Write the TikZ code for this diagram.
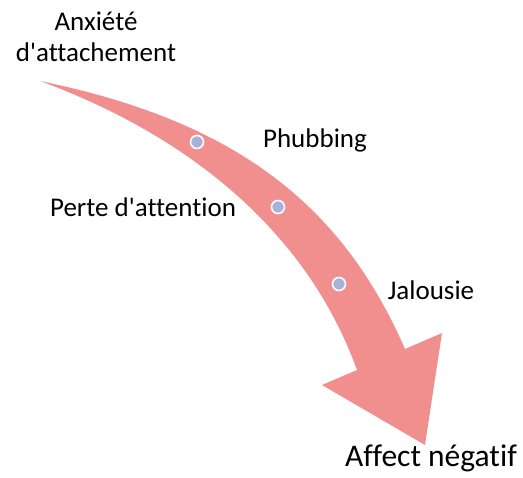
\documentclass[tikz,border=0pt]{standalone}
\usepackage{fontspec}
\setmainfont{Carlito}[Ligatures={NoCommon}]
\usepackage{tikz}
\usetikzlibrary{positioning}

\definecolor{arrowpink}{RGB}{241,142,142}
\definecolor{dotblue}{RGB}{166,178,218}

\begin{document}
\begin{tikzpicture}[
    x=1pt, y=-1pt,
    label/.style={font=\fontsize{27}{31}\selectfont, text=black, inner sep=0pt, align=center},
    point/.style={circle, fill=dotblue, draw=white, line width=1.6pt, minimum size=13pt, inner sep=0pt},
    bigarrow/.style={fill=arrowpink, draw=none}
]
\useasboundingbox (0,0) rectangle (523,478);

% Arrow
\path[bigarrow] (40,81) .. controls (230,120) and (340,200) .. (405,349)
    -- (442,333) -- (425,445) -- (322,385) -- (357,370)
    .. controls (310,240) and (200,140) .. (40,81) -- cycle;

% Points on the arrow
\node[point] (p1) at (197,142) {};
\node[point] (p2) at (278,207) {};
\node[point] (p3) at (339,284) {};

% Labels
\node[label, anchor=base] (anxiety) at (96,62) {Anxiété\\d\textquotesingle attachement};
\node[label, anchor=base] (phubbing) at (315,148) {Phubbing};
\node[label, anchor=base] (attention) at (143,217) {Perte d\textquotesingle attention};
\node[label, anchor=base] (jealousy) at (431,300) {Jalousie};
\node[label, anchor=base, font=\fontsize{31.5}{37}\selectfont] (affect) at (431,467) {Affect négatif};

\end{tikzpicture}
\end{document}
